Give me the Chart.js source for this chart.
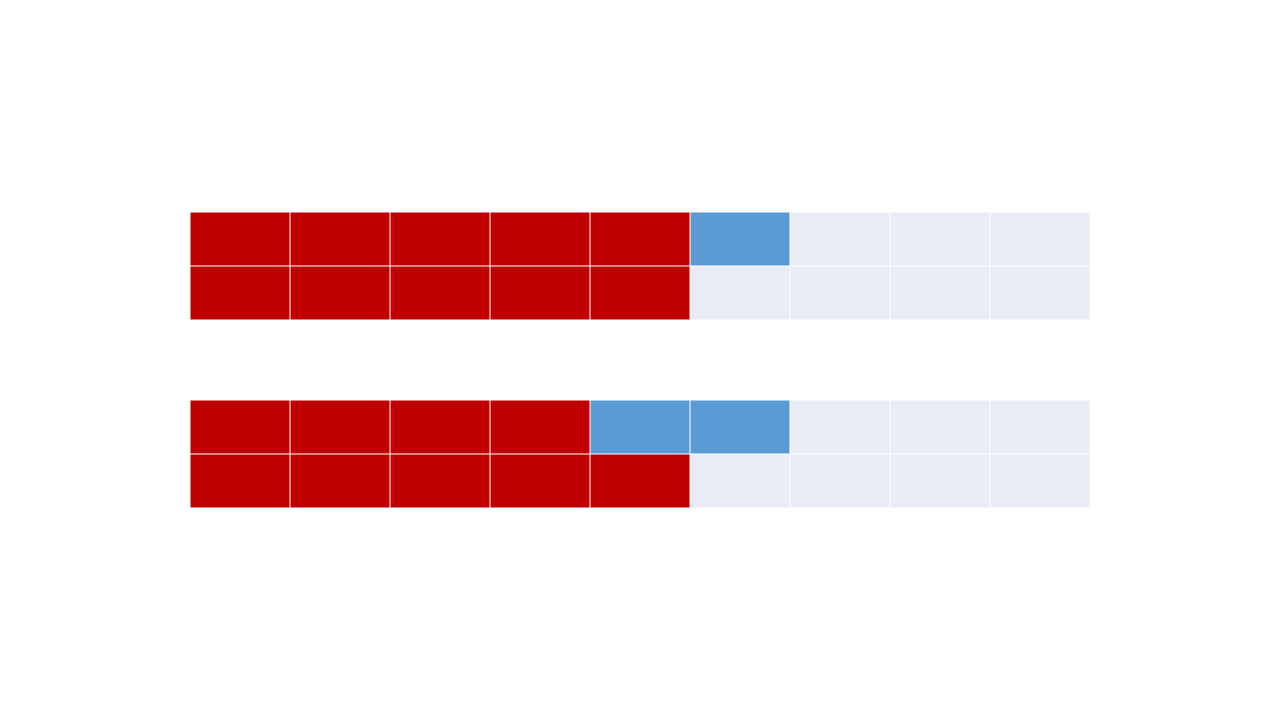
<!DOCTYPE html>
<html>
<head>
<meta charset="utf-8">
<script src="https://cdn.jsdelivr.net/npm/chart.js@4/dist/chart.umd.min.js"></script>
<style>html,body{margin:0;padding:0;background:#fff;}canvas{display:block;}</style>
</head>
<body>
<canvas id="c" width="1280" height="720"></canvas>
<script>
// Waffle rows: each row has 9 cells
const rowPositions = [0, 1, 3.48, 4.48];
const redCounts = [5, 5, 4, 5];
const blueCounts = [1, 0, 2, 0];
const totalCells = 9;

const RED = '#C00000', BLUE = '#5B9BD5', LIGHT = '#E9ECF5';

const datasets = [];
for (let col = 0; col < totalCells; col++) {
  datasets.push({
    data: rowPositions.map(y => ({ x: 1, y: y })),
    backgroundColor: rowPositions.map((_, r) =>
      col < redCounts[r] ? RED : (col < redCounts[r] + blueCounts[r] ? BLUE : LIGHT)),
    borderColor: '#ffffff',
    borderWidth: 0.8,
    borderSkipped: false,
    barThickness: 54
  });
}

new Chart(document.getElementById('c'), {
  type: 'bar',
  data: { datasets },
  options: {
    indexAxis: 'y',
    responsive: false,
    animation: false,
    layout: { padding: { left: 190, right: 190, top: 212, bottom: 212 } },
    plugins: { legend: { display: false }, tooltip: { enabled: false } },
    scales: {
      x: { type: 'linear', stacked: true, min: 0, max: totalCells, offset: false, display: false },
      y: { type: 'linear', stacked: true, reverse: true, min: -0.5, max: 4.98, offset: false, display: false }
    }
  }
});
</script>
</body>
</html>
